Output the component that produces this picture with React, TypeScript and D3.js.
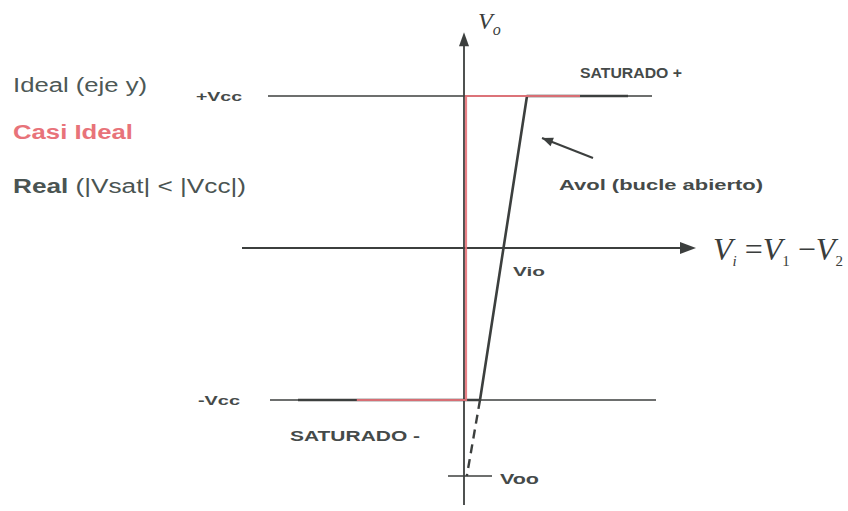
import React from "react";
import * as d3 from "d3";

// Transfer characteristic of an op-amp: Vo versus the differential input Vi = V1 - V2.
// Units: x in arbitrary input units, y normalised to Vcc (= 1).
const VCC = 1;
const VIO = 0.975; // input offset voltage (real line crosses Vo = 0 here)
const VOO = -1.5; // output offset (real line extended to Vi = 0)
const AXIS_X_RANGE = [-5.55, 5.8];
const AXIS_Y_RANGE = [-1.69, 1.42];
const vccLineTop = [-4.9, 4.7];
const vccLineBottom = [-4.85, 4.8];

// "Casi ideal" curve: vertical jump at Vi ~ 0
const casiIdeal: [number, number][] = [
  [-2.68, -VCC],
  [0.05, -VCC],
  [0.05, VCC],
  [2.9, VCC],
];

// Real curve: saturation, finite open-loop gain Avol, saturation
const realCurve: [number, number][] = [
  [-4.15, -VCC],
  [0.4, -VCC],
  [1.575, VCC],
  [4.1, VCC],
];

// Extension of the linear region down to Vi = 0 (shows Voo)
const realExtension: [number, number][] = [
  [0.4, -VCC],
  [0.07, VOO],
];
const vooTick = [-0.4, 0.7];

// Arrow pointing at the open-loop slope
const avolArrow: [number, number][] = [
  [3.225, 0.592],
  [1.95, 0.724],
];

const legendItems = ["Ideal (eje y)", "Casi Ideal", "Real"];

const W = 848;
const H = 511;

const x = d3.scaleLinear().domain([0, 1]).range([464, 504]);
const y = d3.scaleLinear().domain([-VCC, VCC]).range([400, 96]);
const line = d3
  .line<[number, number]>()
  .x((d) => x(d[0]))
  .y((d) => y(d[1]));

const INK = "#3c3f3e";
const RED = "#e8737a";
const LABEL = "Liberation Sans, Arial, sans-serif";
const MATH = "Liberation Serif, Times New Roman, serif";

function arrowHead(tip: [number, number], from: [number, number], len: number, half: number) {
  const dx = tip[0] - from[0];
  const dy = tip[1] - from[1];
  const n = Math.hypot(dx, dy);
  const ux = dx / n;
  const uy = dy / n;
  const bx = tip[0] - ux * len;
  const by = tip[1] - uy * len;
  return `${tip[0]},${tip[1]} ${bx - uy * half},${by + ux * half} ${bx + uy * half},${by - ux * half}`;
}

export default function App() {
  const x0 = x(0);
  const y0 = y(0);
  const xAxisEnd = x(AXIS_X_RANGE[1]);
  const yAxisTop = y(AXIS_Y_RANGE[1]);
  const arrowFrom: [number, number] = [x(avolArrow[0][0]), y(avolArrow[0][1])];
  const arrowTip: [number, number] = [x(avolArrow[1][0]), y(avolArrow[1][1])];

  return (
    <svg
      width={W}
      height={H}
      viewBox={`0 0 ${W} ${H}`}
      style={{ position: "absolute", left: 0, top: 0, background: "#fff" }}
    >
      {/* ±Vcc reference lines */}
      <line x1={x(vccLineTop[0])} x2={x(vccLineTop[1])} y1={y(VCC)} y2={y(VCC)} stroke={INK} strokeWidth={1.6} />
      <line x1={x(vccLineBottom[0])} x2={x(vccLineBottom[1])} y1={y(-VCC)} y2={y(-VCC)} stroke={INK} strokeWidth={1.6} />

      {/* axes */}
      <line x1={x(AXIS_X_RANGE[0])} x2={xAxisEnd - 12} y1={y0} y2={y0} stroke={INK} strokeWidth={1.8} />
      <polygon points={arrowHead([xAxisEnd, y0], [x(AXIS_X_RANGE[0]), y0], 16, 6)} fill={INK} />
      <line x1={x0} x2={x0} y1={y(AXIS_Y_RANGE[0])} y2={yAxisTop + 10} stroke={INK} strokeWidth={1.8} />
      <polygon points={arrowHead([x0, yAxisTop], [x0, y(AXIS_Y_RANGE[0])], 14, 5)} fill={INK} />

      {/* real characteristic */}
      <path d={line(realCurve) ?? ""} fill="none" stroke={INK} strokeWidth={2.6} strokeLinejoin="round" />
      <path d={line(realExtension) ?? ""} fill="none" stroke={INK} strokeWidth={2.4} strokeDasharray="9 6" />

      {/* casi ideal characteristic */}
      <path d={line(casiIdeal) ?? ""} fill="none" stroke={RED} strokeWidth={2.2} opacity={0.9} />

      {/* Voo tick */}
      <line x1={x(vooTick[0])} x2={x(vooTick[1])} y1={y(VOO)} y2={y(VOO)} stroke={INK} strokeWidth={1.6} />

      {/* Avol pointer */}
      <line x1={arrowFrom[0]} y1={arrowFrom[1]} x2={arrowTip[0]} y2={arrowTip[1]} stroke={INK} strokeWidth={2} />
      <polygon points={arrowHead(arrowTip, arrowFrom, 11, 4.5)} fill={INK} />

      {/* legend */}
      <g fontFamily={LABEL} fontSize={20}>
        <text x={13} y={92} fill="#4d5856" textLength={134} lengthAdjust="spacingAndGlyphs">
          {legendItems[0]}
        </text>
        <text x={13} y={139} fill={RED} fontWeight="bold" textLength={120} lengthAdjust="spacingAndGlyphs">
          {legendItems[1]}
        </text>
        <text x={13} y={193} fill="#4a5452" textLength={233} lengthAdjust="spacingAndGlyphs">
          <tspan fontWeight="bold">{legendItems[2]}</tspan>
          <tspan> (|Vsat| &lt; |Vcc|)</tspan>
        </text>
      </g>

      {/* annotations */}
      <g fontFamily={LABEL} fontWeight="bold" fill="#454a49">
        <text x={196} y={y(VCC) + 5} fontSize={12} textLength={46} lengthAdjust="spacingAndGlyphs">+Vcc</text>
        <text x={198} y={y(-VCC) + 5} fontSize={12} textLength={42} lengthAdjust="spacingAndGlyphs">-Vcc</text>
        <text x={580} y={78} fontSize={14} textLength={102} lengthAdjust="spacingAndGlyphs">SATURADO +</text>
        <text x={290} y={441} fontSize={14} textLength={130} lengthAdjust="spacingAndGlyphs">SATURADO -</text>
        <text x={559} y={190} fontSize={15} textLength={204} lengthAdjust="spacingAndGlyphs">Avol  (bucle abierto)</text>
        <text x={x(VIO) + 10} y={y0 + 28} fontSize={13} textLength={32} lengthAdjust="spacingAndGlyphs">Vio</text>
        <text x={x(vooTick[1]) + 8} y={y(VOO) + 8} fontSize={15} textLength={39} lengthAdjust="spacingAndGlyphs">Voo</text>
      </g>

      {/* axis names */}
      <g fontFamily={MATH} fontStyle="italic" fill="#3a3d3c">
        <text x={478} y={29} fontSize={24}>
          V<tspan fontSize={16} dy={6}>o</tspan>
        </text>
        <text x={713} y={260} fontSize={32}>
          V<tspan fontSize={15} dy={6}>i</tspan>
          <tspan dy={-6} fontStyle="normal"> =</tspan>
          <tspan>V</tspan>
          <tspan fontSize={15} dy={6} fontStyle="normal">1</tspan>
          <tspan dy={-6} fontStyle="normal"> −</tspan>
          <tspan>V</tspan>
          <tspan fontSize={15} dy={6} fontStyle="normal">2</tspan>
        </text>
      </g>
    </svg>
  );
}
